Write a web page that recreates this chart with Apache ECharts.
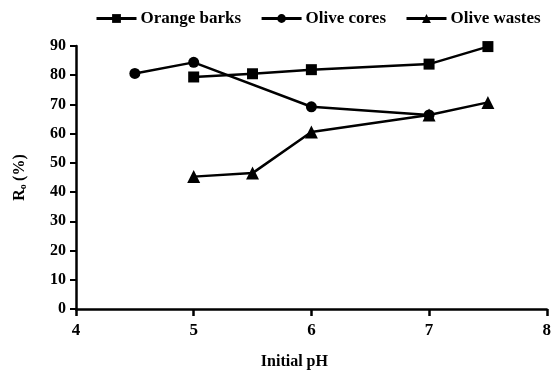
<!DOCTYPE html>
<html>
<head>
<meta charset="utf-8">
<script src="https://cdn.jsdelivr.net/npm/echarts@6/dist/echarts.min.js"></script>
<style>
  html, body { margin: 0; padding: 0; background: #fff; }
  #chart { width: 554px; height: 375px; }
</style>
</head>
<body>
<div id="chart"></div>
<script>
// data (pH, Ro %)
const seriesNames = ['Orange barks', 'Olive cores', 'Olive wastes'];
const orangeBarksPh = [5, 5.5, 6, 7, 7.5];
const orangeBarksRo = [79.4, 80.5, 81.9, 83.8, 89.8];
const oliveCoresPh = [4.5, 5, 6, 7];
const oliveCoresRo = [80.6, 84.4, 69.2, 66.4];
const oliveWastesPh = [5, 5.5, 6, 7, 7.5];
const oliveWastesRo = [45.3, 46.5, 60.6, 66.4, 70.7];

const font = 'Liberation Serif';
const pairs = (xs, ys) => xs.map((x, i) => [x, ys[i]]);

const chart = echarts.init(document.getElementById('chart'));
chart.setOption({
  animation: false,
  backgroundColor: '#fff',
  grid: { left: 76, right: 7, top: 46, bottom: 62, containLabel: false },
  legend: {
    data: seriesNames,
    left: 90,
    top: 5,
    itemWidth: 40,
    itemHeight: 11,
    itemGap: 19,
    lineStyle: { width: 3 },
    textStyle: { fontFamily: font, fontSize: 17, fontWeight: 'bold', color: '#000', padding: [0, 0, 0, -1] },
  },
  xAxis: {
    type: 'value',
    min: 4,
    max: 8,
    interval: 1,
    name: 'Initial pH',
    nameLocation: 'middle',
    nameGap: 45,
    nameTextStyle: { fontFamily: font, fontSize: 16, fontWeight: 'bold', color: '#000', padding: [0, 34, 0, 0] },
    axisLine: { lineStyle: { color: '#000', width: 2.5 } },
    axisTick: { inside: false, length: 7, lineStyle: { color: '#000', width: 2.5 } },
    axisLabel: { fontFamily: font, fontSize: 17, fontWeight: 'bold', color: '#000', margin: 13 },
    splitLine: { show: false },
  },
  yAxis: {
    type: 'value',
    min: 0,
    max: 90,
    interval: 10,
    name: '{r|R}{s|o} {r|(%)}',
    nameLocation: 'middle',
    nameGap: 48,
    nameRotate: 90,
    nameTextStyle: {
      rich: {
        r: { fontFamily: font, fontSize: 16, fontWeight: 'bold', color: '#000' },
        s: { fontFamily: font, fontSize: 10, fontWeight: 'bold', color: '#000', verticalAlign: 'bottom', padding: [6, 0, 0, 0] },
      },
    },
    axisLine: { show: true, lineStyle: { color: '#000', width: 2.5 } },
    axisTick: { show: true, length: 6, lineStyle: { color: '#000', width: 2 } },
    axisLabel: { fontFamily: font, fontSize: 16, fontWeight: 'bold', color: '#000', margin: 10 },
    splitLine: { show: false },
  },
  series: [
    {
      name: seriesNames[0],
      type: 'line',
      data: pairs(orangeBarksPh, orangeBarksRo),
      symbol: 'rect',
      symbolSize: 11,
      itemStyle: { color: '#000' },
      lineStyle: { color: '#000', width: 2.5 },
    },
    {
      name: seriesNames[1],
      type: 'line',
      data: pairs(oliveCoresPh, oliveCoresRo),
      symbol: 'circle',
      symbolSize: 11,
      itemStyle: { color: '#000' },
      lineStyle: { color: '#000', width: 2.5 },
    },
    {
      name: seriesNames[2],
      type: 'line',
      data: pairs(oliveWastesPh, oliveWastesRo),
      symbol: 'triangle',
      symbolSize: 13,
      itemStyle: { color: '#000' },
      lineStyle: { color: '#000', width: 2.5 },
    },
  ],
});
</script>
</body>
</html>
